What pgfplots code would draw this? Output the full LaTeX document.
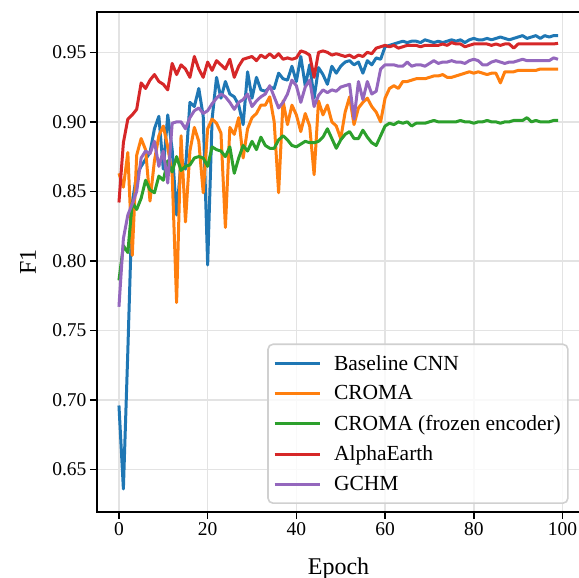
\documentclass[border=0pt]{standalone}
\usepackage{pgfplots}
\usepackage{pgfplotstable}
\pgfplotsset{compat=1.18}
\usepackage{fontspec}
\setmainfont{Liberation Serif}

\definecolor{tabblue}{HTML}{1F77B4}
\definecolor{taborange}{HTML}{FF7F0E}
\definecolor{tabgreen}{HTML}{2CA02C}
\definecolor{tabred}{HTML}{D62728}
\definecolor{tabpurple}{HTML}{9467BD}
\definecolor{gridgray}{HTML}{E3E3E3}
\definecolor{legframe}{HTML}{D0D0D0}

% epoch, Baseline CNN, CROMA, CROMA frozen, AlphaEarth, GCHM
\pgfplotstableread{
ep base croma frozen alpha gchm
0 0.696 0.863 0.786 0.842 0.767
1 0.636 0.853 0.811 0.885 0.816
2 0.735 0.878 0.806 0.902 0.833
3 0.842 0.804 0.842 0.905 0.841
4 0.862 0.876 0.837 0.909 0.850
5 0.868 0.888 0.845 0.928 0.874
6 0.873 0.880 0.858 0.924 0.879
7 0.878 0.843 0.851 0.930 0.877
8 0.895 0.872 0.849 0.934 0.886
9 0.904 0.890 0.861 0.929 0.868
10 0.866 0.897 0.858 0.927 0.879
11 0.905 0.882 0.872 0.923 0.856
12 0.880 0.862 0.864 0.942 0.899
13 0.833 0.770 0.875 0.934 0.900
14 0.872 0.890 0.865 0.941 0.900
15 0.866 0.828 0.868 0.938 0.895
16 0.914 0.879 0.869 0.932 0.903
17 0.911 0.896 0.874 0.947 0.908
18 0.924 0.886 0.875 0.938 0.910
19 0.904 0.849 0.874 0.932 0.906
20 0.797 0.895 0.868 0.943 0.908
21 0.902 0.902 0.882 0.937 0.913
22 0.932 0.899 0.880 0.944 0.917
23 0.917 0.892 0.879 0.941 0.920
24 0.929 0.824 0.875 0.938 0.918
25 0.920 0.896 0.882 0.945 0.914
26 0.918 0.891 0.863 0.932 0.909
27 0.912 0.903 0.874 0.940 0.914
28 0.898 0.874 0.883 0.945 0.916
29 0.936 0.895 0.879 0.946 0.920
30 0.917 0.903 0.886 0.947 0.911
31 0.932 0.906 0.880 0.944 0.915
32 0.923 0.912 0.889 0.948 0.918
33 0.922 0.912 0.883 0.946 0.920
34 0.925 0.918 0.881 0.949 0.926
35 0.924 0.900 0.881 0.946 0.918
36 0.935 0.849 0.887 0.949 0.910
37 0.931 0.915 0.890 0.945 0.914
38 0.930 0.898 0.887 0.946 0.920
39 0.940 0.912 0.883 0.945 0.930
40 0.929 0.905 0.882 0.946 0.926
41 0.947 0.893 0.884 0.951 0.914
42 0.926 0.906 0.886 0.950 0.925
43 0.941 0.897 0.885 0.948 0.930
44 0.917 0.862 0.885 0.932 0.911
45 0.939 0.915 0.886 0.950 0.919
46 0.934 0.905 0.889 0.951 0.923
47 0.927 0.912 0.895 0.950 0.921
48 0.940 0.900 0.888 0.948 0.923
49 0.935 0.897 0.881 0.949 0.922
50 0.940 0.888 0.887 0.948 0.925
51 0.943 0.907 0.891 0.947 0.926
52 0.944 0.918 0.893 0.948 0.927
53 0.941 0.898 0.888 0.946 0.902
54 0.943 0.910 0.888 0.948 0.929
55 0.935 0.914 0.894 0.947 0.916
56 0.944 0.917 0.889 0.950 0.929
57 0.941 0.911 0.885 0.949 0.920
58 0.946 0.907 0.883 0.953 0.922
59 0.945 0.900 0.890 0.954 0.938
60 0.954 0.917 0.897 0.955 0.941
61 0.955 0.924 0.899 0.954 0.941
62 0.956 0.926 0.898 0.955 0.941
63 0.957 0.924 0.900 0.953 0.940
64 0.958 0.929 0.899 0.954 0.940
65 0.957 0.929 0.900 0.955 0.943
66 0.958 0.930 0.897 0.955 0.940
67 0.958 0.931 0.899 0.955 0.941
68 0.957 0.931 0.899 0.954 0.941
69 0.959 0.931 0.899 0.955 0.940
70 0.958 0.932 0.900 0.955 0.942
71 0.957 0.933 0.901 0.955 0.944
72 0.958 0.933 0.900 0.955 0.942
73 0.957 0.934 0.900 0.956 0.943
74 0.958 0.932 0.900 0.955 0.943
75 0.959 0.932 0.900 0.957 0.944
76 0.958 0.933 0.900 0.956 0.943
77 0.959 0.934 0.901 0.956 0.943
78 0.957 0.935 0.900 0.954 0.942
79 0.959 0.936 0.900 0.955 0.944
80 0.960 0.935 0.899 0.956 0.945
81 0.959 0.936 0.900 0.956 0.944
82 0.959 0.935 0.900 0.956 0.941
83 0.960 0.934 0.901 0.956 0.941
84 0.959 0.935 0.900 0.955 0.943
85 0.960 0.935 0.900 0.956 0.944
86 0.961 0.928 0.899 0.955 0.943
87 0.960 0.936 0.900 0.956 0.942
88 0.959 0.936 0.900 0.956 0.943
89 0.960 0.936 0.901 0.953 0.943
90 0.961 0.937 0.901 0.956 0.944
91 0.962 0.937 0.901 0.956 0.945
92 0.960 0.937 0.903 0.956 0.944
93 0.961 0.937 0.900 0.956 0.944
94 0.962 0.937 0.901 0.956 0.944
95 0.960 0.938 0.900 0.956 0.944
96 0.962 0.938 0.900 0.956 0.944
97 0.961 0.938 0.900 0.956 0.944
98 0.962 0.938 0.901 0.956 0.946
99 0.962 0.938 0.901 0.9565 0.945
}\curves

\begin{document}
\begin{tikzpicture}
\begin{axis}[
    scale only axis,
    width=483pt, height=500pt,
    xmin=-4.95, xmax=103.95,
    ymin=0.6194, ymax=0.979,
    xtick={0,20,40,60,80,100},
    ytick={0.65,0.70,0.75,0.80,0.85,0.90,0.95},
    yticklabel style={/pgf/number format/.cd, fixed, fixed zerofill, precision=2},
    /pgf/number format/assume math mode=true,
    ticklabel style={font=\fontsize{19.5}{22}\selectfont},
    xtick pos=bottom, ytick pos=left,
    tick align=outside,
    major tick length=7pt,
    tick style={black, line width=1.6pt},
    axis line style={line width=1.6pt},
    grid=major,
    grid style={gridgray, line width=1.6pt},
    xlabel={Epoch}, ylabel={F1},
    label style={font=\fontsize{24}{28}\selectfont},
    xlabel style={at={(axis description cs:0.5,-0.113)}, anchor=center},
    ylabel style={at={(axis description cs:-0.143,0.5)}, anchor=center},
    every axis plot/.append style={line width=3pt, line join=round},
    legend cell align=left,
    legend image code/.code={\draw[#1] (0pt,0pt) -- (45pt,0pt);},
    legend style={at={(0.9766,0.016)}, anchor=south east,
        draw=legframe, line width=1.6pt, rounded corners=5pt,
        fill=white, fill opacity=0.8, text opacity=1,
        font=\fontsize{21.5}{24}\selectfont,
        inner xsep=5pt, inner ysep=9pt, row sep=10pt,
        /tikz/every odd column/.append style={column sep=11pt}},
]
\addplot[tabblue] table[x=ep, y=base] {\curves};
\addplot[taborange] table[x=ep, y=croma] {\curves};
\addplot[tabgreen] table[x=ep, y=frozen] {\curves};
\addplot[tabred] table[x=ep, y=alpha] {\curves};
\addplot[tabpurple] table[x=ep, y=gchm] {\curves};
\legend{Baseline CNN, CROMA, CROMA (frozen encoder), AlphaEarth, GCHM}
\end{axis}
\pgfresetboundingbox
\useasboundingbox (-97pt,-66pt) rectangle (482pt,512pt);
\end{tikzpicture}
\end{document}
